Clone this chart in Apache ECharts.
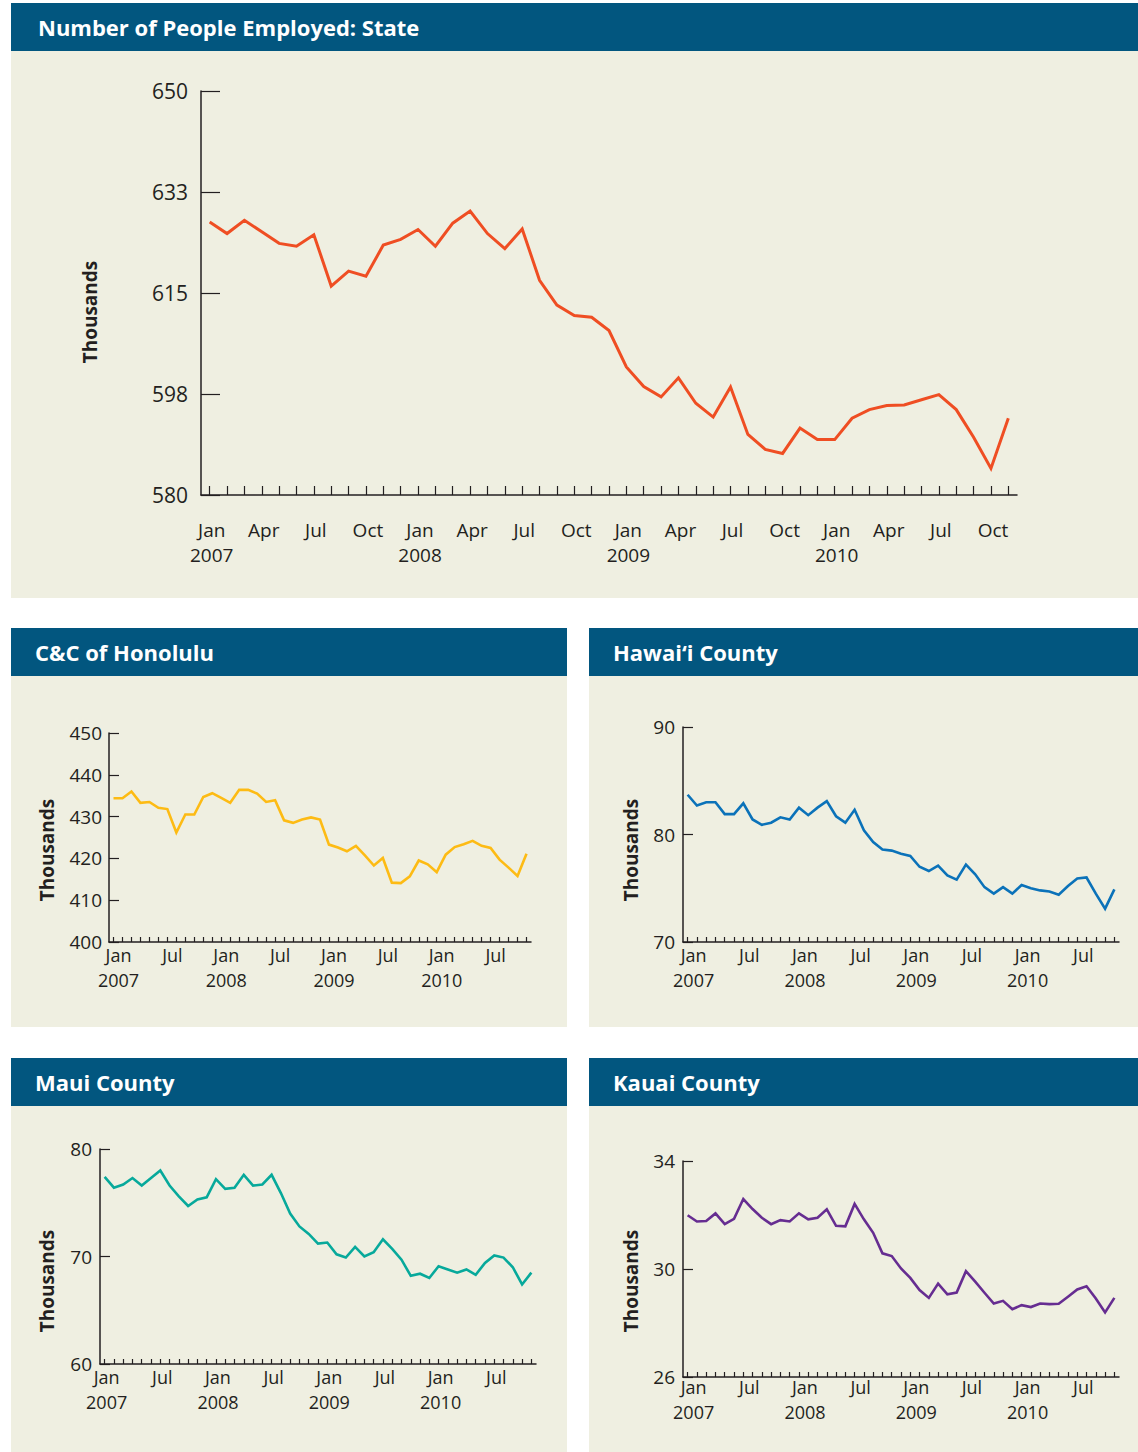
<!DOCTYPE html>
<html>
<head>
<meta charset="utf-8">
<title>Number of People Employed</title>
<script src="https://cdn.jsdelivr.net/npm/echarts@6/dist/echarts.min.js"></script>
<style>
  html, body { margin: 0; padding: 0; background: #fff; }
  #main { width: 1138px; height: 1452px; }
</style>
</head>
<body>
<div id="main"></div>
<script>
// monthly data, Jan 2007 - Nov 2010 (thousands)
const months = [
  'Jan 2007', 'Feb 2007', 'Mar 2007', 'Apr 2007', 'May 2007', 'Jun 2007',
  'Jul 2007', 'Aug 2007', 'Sep 2007', 'Oct 2007', 'Nov 2007', 'Dec 2007',
  'Jan 2008', 'Feb 2008', 'Mar 2008', 'Apr 2008', 'May 2008', 'Jun 2008',
  'Jul 2008', 'Aug 2008', 'Sep 2008', 'Oct 2008', 'Nov 2008', 'Dec 2008',
  'Jan 2009', 'Feb 2009', 'Mar 2009', 'Apr 2009', 'May 2009', 'Jun 2009',
  'Jul 2009', 'Aug 2009', 'Sep 2009', 'Oct 2009', 'Nov 2009', 'Dec 2009',
  'Jan 2010', 'Feb 2010', 'Mar 2010', 'Apr 2010', 'May 2010', 'Jun 2010',
  'Jul 2010', 'Aug 2010', 'Sep 2010', 'Oct 2010', 'Nov 2010'
]
const stateVals = [
  627.3, 625.3, 627.6, 625.6, 623.6, 623.1, 625.1, 616.2, 618.8, 617.9, 623.3, 624.3,
  626.0, 623.1, 627.1, 629.2, 625.3, 622.7, 626.1, 617.2, 612.9, 611.1, 610.8, 608.5,
  602.2, 598.8, 597.0, 600.3, 595.9, 593.5, 598.7, 590.5, 587.9, 587.2, 591.6, 589.6,
  589.6, 593.3, 594.8, 595.5, 595.6, 596.5, 597.4, 594.8, 590.0, 584.6, 593.3
]
const honoluluVals = [
  434.4, 434.4, 436.0, 433.3, 433.5, 432.1, 431.8, 426.2, 430.5, 430.5, 434.7, 435.6,
  434.5, 433.3, 436.4, 436.4, 435.5, 433.5, 433.9, 429.1, 428.5, 429.3, 429.8, 429.3,
  423.3, 422.6, 421.7, 423.0, 420.7, 418.3, 420.1, 414.2, 414.1, 415.7, 419.5, 418.6,
  416.7, 420.9, 422.7, 423.4, 424.2, 423.0, 422.5, 419.7, 417.8, 415.8, 421.1
]
const hawaiiVals = [
  83.7, 82.7, 83.0, 83.0, 81.9, 81.9, 82.9, 81.4, 80.9, 81.1, 81.6, 81.4,
  82.5, 81.8, 82.5, 83.1, 81.7, 81.1, 82.3, 80.4, 79.3, 78.6, 78.5, 78.2,
  78.0, 77.0, 76.6, 77.1, 76.2, 75.8, 77.2, 76.3, 75.1, 74.5, 75.1, 74.5,
  75.3, 75.0, 74.8, 74.7, 74.4, 75.2, 75.9, 76.0, 74.5, 73.1, 74.9
]
const mauiVals = [
  77.4, 76.4, 76.7, 77.3, 76.6, 77.3, 78.0, 76.6, 75.6, 74.7, 75.3, 75.5,
  77.2, 76.3, 76.4, 77.6, 76.6, 76.7, 77.6, 75.9, 74.0, 72.8, 72.1, 71.2,
  71.3, 70.2, 69.9, 70.9, 70.0, 70.4, 71.6, 70.7, 69.7, 68.2, 68.4, 68.0,
  69.1, 68.8, 68.5, 68.8, 68.3, 69.4, 70.1, 69.9, 69.0, 67.4, 68.5
]
const kauaiVals = [
  31.99, 31.76, 31.78, 32.06, 31.66, 31.86, 32.59, 32.22, 31.90, 31.66, 31.81, 31.76,
  32.06, 31.84, 31.90, 32.21, 31.60, 31.58, 32.41, 31.84, 31.34, 30.58, 30.48, 30.02,
  29.67, 29.22, 28.93, 29.46, 29.06, 29.13, 29.92, 29.53, 29.12, 28.72, 28.82, 28.51,
  28.66, 28.59, 28.72, 28.70, 28.71, 28.97, 29.24, 29.36, 28.91, 28.39, 28.93
]
// y tick values
const stateTicks = [580, 597.5, 615, 632.5, 650]
const honoluluTicks = [400, 410, 420, 430, 440, 450]
const hawaiiTicks = [70, 80, 90]
const mauiTicks = [60, 70, 80]
const kauaiTicks = [26, 30, 34]

const ink = '#231f20'
const headBlue = '#02567f'
const paper = '#efefe1'
const font = '"Open Sans", "Noto Sans", sans-serif'

const panels = [
  {
    title: 'Number of People Employed: State', vals: stateVals, ticks: stateTicks, color: '#ef4e23',
    box: [11, 3, 1127, 595], grid: { left: 201, top: 91, width: 816, height: 404 },
    name: [90, 312], step: 3, fontSize: 19, yFontSize: 21, lineHeight: 25, xMargin: 22, yMargin: 13,
    xTick: 9, yTick: 19, lineWidth: 3, labelPad: 4
  },
  {
    title: 'C&C of Honolulu', vals: honoluluVals, ticks: honoluluTicks, color: '#fdbb14',
    box: [11, 628, 556, 399], grid: { left: 109, top: 733, width: 422, height: 209 },
    name: [47, 850], step: 6, fontSize: 18, yFontSize: 19, lineHeight: 25, xMargin: 0, yMargin: 7,
    xTick: 5, yTick: 10, lineWidth: 2.6, labelPad: 10
  },
  {
    title: 'Hawai‘i County', vals: hawaiiVals, ticks: hawaiiTicks, color: '#0b72b9',
    box: [589, 628, 549, 399], grid: { left: 683, top: 727, width: 436, height: 215 },
    name: [631, 850], step: 6, fontSize: 18, yFontSize: 19, lineHeight: 25, xMargin: 0, yMargin: 8,
    xTick: 5, yTick: 10, lineWidth: 2.6, labelPad: 12
  },
  {
    title: 'Maui County', vals: mauiVals, ticks: mauiTicks, color: '#07a99b',
    box: [11, 1058, 556, 394], grid: { left: 100, top: 1149, width: 436, height: 215 },
    name: [47, 1281], step: 6, fontSize: 18, yFontSize: 19, lineHeight: 25, xMargin: 0, yMargin: 8,
    xTick: 5, yTick: 10, lineWidth: 2.6, labelPad: 4
  },
  {
    title: 'Kauai County', vals: kauaiVals, ticks: kauaiTicks, color: '#662d91',
    box: [589, 1058, 549, 394], grid: { left: 683, top: 1161, width: 436, height: 216 },
    name: [631, 1281], step: 6, fontSize: 18, yFontSize: 19, lineHeight: 25, xMargin: -3, yMargin: 8,
    xTick: 5, yTick: 10, lineWidth: 2.6, labelPad: 12
  }
]

const grids = []
const xAxes = []
const yAxes = []
const series = []
const graphics = []

panels.forEach((p, i) => {
  const [bx, by, bw, bh] = p.box
  // panel background + header band
  graphics.push({ type: 'rect', z: -10, shape: { x: bx, y: by + 47, width: bw, height: bh - 47 }, style: { fill: paper } })
  graphics.push({ type: 'rect', z: -9, shape: { x: bx, y: by, width: bw, height: 48 }, style: { fill: headBlue } })
  graphics.push({
    type: 'text', z: 5, x: bx + (i === 0 ? 27 : 24), y: by + 24,
    style: { text: p.title, fill: '#fff', font: 'bold 22px ' + font, align: 'left', verticalAlign: 'middle' }
  })
  graphics.push({
    type: 'text', z: 5, x: p.name[0], y: p.name[1], rotation: Math.PI / 2,
    style: { text: 'Thousands', fill: ink, font: 'bold 19px ' + font, align: 'center', verticalAlign: 'middle' }
  })

  grids.push(Object.assign({ containLabel: false }, p.grid))

  xAxes.push({
    type: 'category',
    gridIndex: i,
    data: months,
    boundaryGap: true,
    axisLine: { show: true, lineStyle: { color: ink, width: 1.5 } },
    axisTick: {
      show: true, alignWithLabel: true, interval: 0, inside: true, length: p.xTick,
      lineStyle: { color: ink, width: 1.2 }
    },
    axisLabel: {
      interval: (idx) => idx % p.step === 0,
      formatter: (v) => {
        const parts = v.split(' ')
        return parts[0] === 'Jan' ? parts[0] + '\n' + parts[1] : parts[0]
      },
      color: ink,
      fontFamily: font,
      fontSize: p.fontSize,
      lineHeight: p.lineHeight,
      margin: p.xMargin,
      padding: [0, 0, 0, p.labelPad]
    },
    splitLine: { show: false }
  })

  yAxes.push({
    type: 'value',
    gridIndex: i,
    min: p.ticks[0],
    max: p.ticks[p.ticks.length - 1],
    axisLine: { show: true, lineStyle: { color: ink, width: 1.5 } },
    axisTick: { show: true, inside: true, length: p.yTick, customValues: p.ticks, lineStyle: { color: ink, width: 1.2 } },
    axisLabel: {
      customValues: p.ticks,
      formatter: (v) => String(Math.round(v)),
      color: ink,
      fontFamily: font,
      fontSize: p.yFontSize,
      margin: p.yMargin
    },
    splitLine: { show: false }
  })

  series.push({
    type: 'line',
    name: p.title,
    xAxisIndex: i,
    yAxisIndex: i,
    data: p.vals,
    symbol: 'none',
    lineStyle: { color: p.color, width: p.lineWidth, join: 'miter' },
    z: 3
  })
})

const chart = echarts.init(document.getElementById('main'), null, { renderer: 'svg' })
chart.setOption({
  animation: false,
  backgroundColor: '#fff',
  graphic: graphics,
  grid: grids,
  xAxis: xAxes,
  yAxis: yAxes,
  series: series
})
</script>
</body>
</html>
